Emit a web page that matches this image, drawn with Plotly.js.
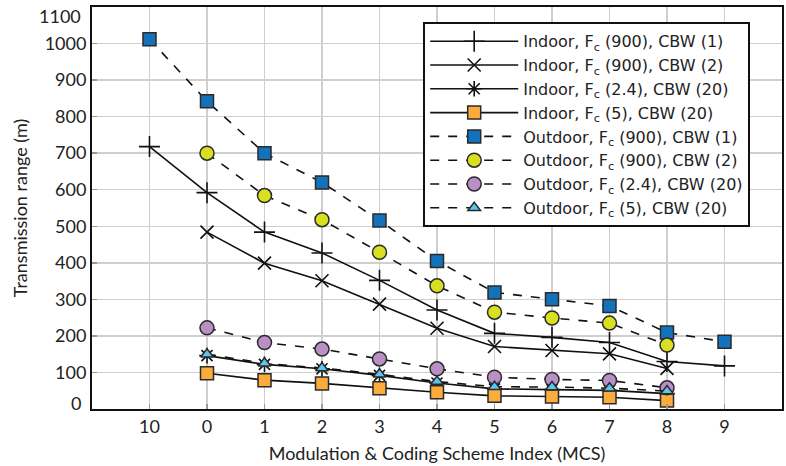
<!DOCTYPE html>
<html>
<head>
<meta charset="utf-8">
<script src="https://cdn.plot.ly/plotly-3.0.1.min.js"></script>
<style>html,body{margin:0;padding:0;background:#fff;}#chart{width:786px;height:466px;}</style>
</head>
<body>
<div id="chart"></div>
<script>
const categories = ['10','0','1','2','3','4','5','6','7','8','9'];

const indoor900cbw1  = [718, 592, 484, 427, 352, 271, 207, 196, 182, 130, 118];
const indoor900cbw2  = [null, 484, 399, 351, 287, 221, 171, 160, 151, 111, null];
const indoor24cbw20  = [null, 146, 122, 110, 92, 71, 55, 53, 51, 42, null];
const indoor5cbw20   = [null, 98, 79, 70, 57, 46, 36, 34, 32, 23, null];
const outdoor900cbw1 = [1012, 842, 700, 620, 516, 405, 319, 300, 282, 209, 184];
const outdoor900cbw2 = [null, 700, 584, 518, 429, 337, 265, 249, 235, 175, null];
const outdoor24cbw20 = [null, 222, 182, 164, 137, 110, 87, 81, 78, 58, null];
const outdoor5cbw20  = [null, 150, 125, 112, 95, 75, 61, 60, 57, 49, null];

const yTickVals = [100, 200, 300, 400, 500, 600, 700, 800, 900, 1000];
const yEdgeTicks = [0, 1100];

const names = [
  'Indoor, F<sub>c</sub> (900), CBW (1)',
  'Indoor, F<sub>c</sub> (900), CBW (2)',
  'Indoor, F<sub>c</sub> (2.4), CBW (20)',
  'Indoor, F<sub>c</sub> (5), CBW (20)',
  'Outdoor, F<sub>c</sub> (900), CBW (1)',
  'Outdoor, F<sub>c</sub> (900), CBW (2)',
  'Outdoor, F<sub>c</sub> (2.4), CBW (20)',
  'Outdoor, F<sub>c</sub> (5), CBW (20)'
];

function tr(y, name, dash, symbol, color, size, lineMarker) {
  return {
    x: categories, y: y, name: name, type: 'scatter', mode: 'lines+markers',
    line: {color: '#111', width: 1.6, dash: dash},
    marker: lineMarker
      ? {symbol: symbol, size: size, color: '#111', line: {color: '#111', width: 1.6}}
      : {symbol: symbol, size: size, color: color, line: {color: '#2a2a2a', width: 1.5}},
    cliponaxis: false
  };
}

const data = [
  tr(indoor900cbw1, names[0], 'solid', 'cross-thin-open', null, 15, true),
  tr(indoor900cbw2, names[1], 'solid', 'x-thin-open', null, 13, true),
  tr(indoor24cbw20, names[2], 'solid', 'asterisk-open', null, 13, true),
  tr(indoor5cbw20, names[3], 'solid', 'square', '#fbac3c', 13, false),
  tr(outdoor900cbw1, names[4], 'dash', 'square', '#1472ba', 13, false),
  tr(outdoor900cbw2, names[5], 'dash', 'circle', '#d9e021', 14, false),
  tr(outdoor24cbw20, names[6], 'dash', 'circle', '#b98fc6', 14, false),
  tr(outdoor5cbw20, names[7], 'dash', 'triangle-up', '#5cc6ee', 11, false)
];

const font = 'Lato, "DejaVu Sans", sans-serif';
const legendFont = '"DejaVu Sans", Lato, sans-serif';

const edgeAnnotations = yEdgeTicks.map(v => ({
  text: String(v), xref: 'paper', x: 0, xanchor: 'right', xshift: -9,
  yref: 'y', y: v, yanchor: 'middle', yshift: v === 0 ? 6 : -9,
  showarrow: false, font: {family: font, size: 18, color: '#222'}
}));

const layout = {
  width: 786, height: 466,
  margin: {l: 92, r: 4, t: 7, b: 57},
  paper_bgcolor: '#fff', plot_bgcolor: '#fff',
  font: {family: font, size: 18, color: '#222'},
  showlegend: true,
  legend: {
    x: 0.48, y: 0.962, xanchor: 'left', yanchor: 'top',
    bgcolor: '#fff', bordercolor: '#111', borderwidth: 2,
    font: {family: legendFont, size: 16, color: '#222'},
    itemwidth: 88, tracegroupgap: 0
  },
  annotations: edgeAnnotations,
  xaxis: {
    type: 'category', range: [-1, 11],
    showgrid: true, gridcolor: '#cfcfcf', gridwidth: 1.5,
    showline: true, linecolor: '#111', linewidth: 2, mirror: true,
    ticks: 'inside', ticklen: 5, tickcolor: '#999', tickwidth: 1.5,
    tickfont: {family: font, size: 18, color: '#222'},
    title: {text: 'Modulation &amp; Coding Scheme Index (MCS)', font: {family: font, size: 18, color: '#222'}, standoff: 12},
    zeroline: false
  },
  yaxis: {
    range: [0, 1100], tickmode: 'array', tickvals: yTickVals,
    showgrid: true, gridcolor: '#cfcfcf', gridwidth: 1.5,
    showline: true, linecolor: '#111', linewidth: 2, mirror: true,
    ticks: 'inside', ticklen: 5, tickcolor: '#999', tickwidth: 1.5,
    tickfont: {family: font, size: 18, color: '#222'},
    title: {text: 'Transmission range (m)', font: {family: font, size: 18, color: '#222'}, standoff: 12},
    zeroline: false
  }
};

Plotly.newPlot('chart', data, layout, {displayModeBar: false, staticPlot: true});
</script>
</body>
</html>
